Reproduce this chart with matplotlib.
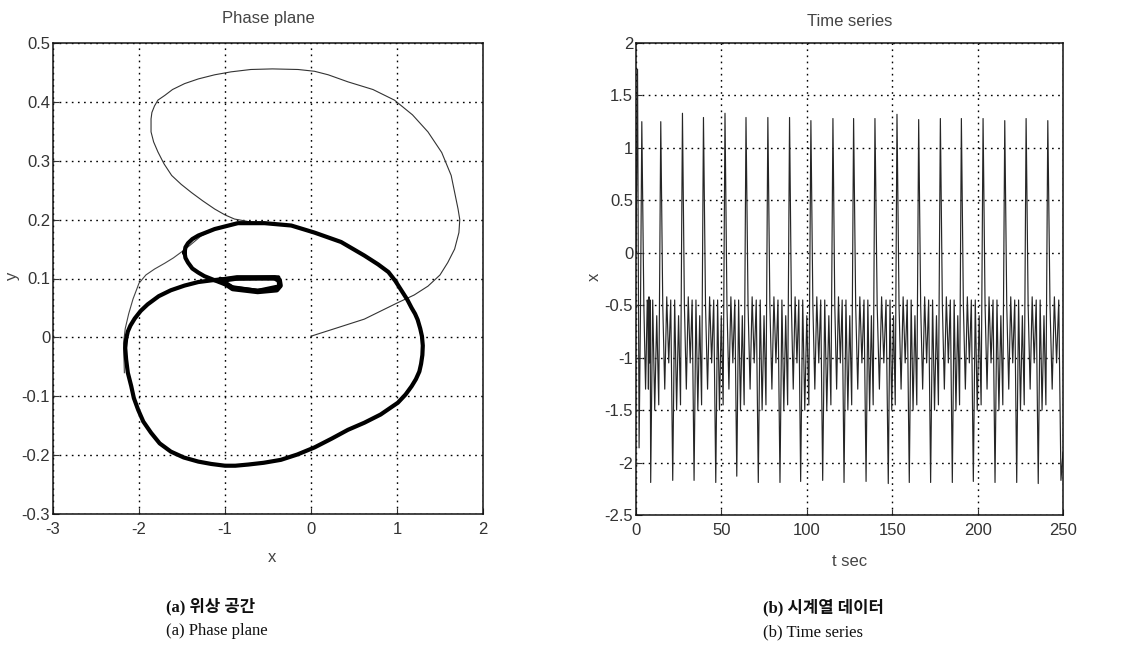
import numpy as np
import matplotlib
matplotlib.use("Agg")
import matplotlib.pyplot as plt

plt.rcParams['axes.unicode_minus'] = False

# ---------------- data: phase plane ----------------
# main attractor loop (clockwise, starting at the "tongue" tip)
loop_x = [-1.47, -1.46, -1.43, -1.38, -1.31, -1.12, -0.85, -0.54, -0.23, 0.04, 0.35,
          0.62, 0.78, 0.90, 0.98, 1.05, 1.12, 1.17, 1.21, 1.24, 1.27, 1.29, 1.30,
          1.295, 1.28, 1.26, 1.22, 1.17, 1.10, 1.01, 0.81, 0.62, 0.43, 0.24, 0.04,
          -0.16, -0.35, -0.55, -0.73, -0.88, -1.00, -1.16, -1.31, -1.48, -1.63,
          -1.76, -1.86, -1.95, -2.01, -2.06, -2.09, -2.13, -2.15, -2.16, -2.15,
          -2.13, -2.10, -2.05, -1.98, -1.90, -1.77, -1.63, -1.47, -1.31, -1.15,
          -1.00, -0.86, -0.60, -0.38, -0.36, -0.62, -0.91, -1.12, -1.24, -1.31,
          -1.38, -1.43, -1.46, -1.47]
loop_y = [0.144, 0.153, 0.160, 0.167, 0.173, 0.184, 0.194, 0.194, 0.190, 0.178, 0.162,
          0.139, 0.124, 0.111, 0.096, 0.080, 0.064, 0.050, 0.040, 0.030, 0.015, 0.002,
          -0.014, -0.030, -0.045, -0.058, -0.071, -0.083, -0.097, -0.111, -0.131,
          -0.145, -0.157, -0.172, -0.187, -0.199, -0.208, -0.213, -0.216, -0.218,
          -0.218, -0.215, -0.211, -0.204, -0.194, -0.180, -0.162, -0.143, -0.123,
          -0.103, -0.083, -0.060, -0.037, -0.018, -0.003, 0.010, 0.020, 0.032,
          0.045, 0.056, 0.070, 0.080, 0.088, 0.094, 0.097, 0.099, 0.100, 0.101,
          0.102, 0.087, 0.079, 0.085, 0.097, 0.104, 0.110, 0.117, 0.127, 0.135,
          0.144]
# small inner loop (dense region)
inner_x = [-1.05, -0.86, -0.60, -0.42, -0.37, -0.36, -0.40, -0.62, -0.91, -1.05]
inner_y = [0.097, 0.101, 0.101, 0.101, 0.097, 0.088, 0.081, 0.078, 0.083, 0.097]
# transient: big outer excursion
trans_x = [0.00, 0.30, 0.62, 1.01, 1.20, 1.36, 1.50, 1.59, 1.67, 1.72, 1.73, 1.71,
           1.63, 1.52, 1.36, 1.18, 0.97, 0.72, 0.43, 0.20, 0.04, -0.15, -0.45,
           -0.70, -0.93, -1.12, -1.31, -1.47, -1.61, -1.70, -1.78, -1.82, -1.85,
           -1.86, -1.86, -1.83, -1.78, -1.71, -1.62, -1.51, -1.39, -1.26, -1.12,
           -1.00, -0.89, -0.70]
trans_y = [0.002, 0.016, 0.031, 0.059, 0.072, 0.087, 0.106, 0.127, 0.150, 0.178,
           0.200, 0.218, 0.275, 0.314, 0.349, 0.378, 0.403, 0.421, 0.434, 0.446,
           0.452, 0.455, 0.456, 0.455, 0.451, 0.446, 0.439, 0.431, 0.421, 0.411,
           0.403, 0.393, 0.382, 0.371, 0.349, 0.332, 0.315, 0.295, 0.275, 0.260,
           0.246, 0.232, 0.218, 0.208, 0.201, 0.196]
# transient: first outer pass on the left
outer_x = [-2.17, -2.18, -2.16, -2.12, -2.07, -2.00, -1.92, -1.82, -1.70, -1.60,
           -1.46, -1.37, -1.28, -1.10]
outer_y = [-0.06, -0.01, 0.015, 0.040, 0.065, 0.092, 0.106, 0.116, 0.126, 0.135,
           0.150, 0.161, 0.172, 0.185]

# ---------------- data: time series ----------------
start_t = [0.0, 0.9, 1.8, 2.6, 3.4, 4.6, 5.6, 6.6]
start_x = [0.0, 1.75, -1.86, -0.60, 1.25, -0.50, -1.30, -0.45]
peak_t = [14.5, 27.2, 39.5, 52.1, 64.4, 77.2, 89.9, 102.4, 115.3, 127.4, 139.9,
          152.8, 165.5, 178.2, 190.5, 203.2, 215.9, 228.4, 241.1]
peak_x = [1.25, 1.33, 1.29, 1.33, 1.29, 1.29, 1.29, 1.26, 1.28, 1.28, 1.28, 1.32,
          1.27, 1.28, 1.28, 1.28, 1.26, 1.28, 1.26]
trough_t = [8.6, 21.5, 34.0, 46.7, 59.0, 71.6, 84.3, 96.4, 109.3, 121.8, 134.7,
            147.7, 160.0, 172.5, 185.2, 197.5, 210.2, 222.9, 235.5, 248.8]
trough_x = [-2.19, -2.17, -2.17, -2.19, -2.13, -2.19, -2.19, -2.18, -2.17, -2.19,
            -2.18, -2.20, -2.19, -2.19, -2.19, -2.18, -2.19, -2.19, -2.20, -2.17]
# levels of the small strokes between a peak and the next trough, and after a trough
after_peak_x = [-0.50, -1.30, -0.42, -1.05, -0.45]
after_trough_x = [-0.45, -1.50, -0.60, -1.45]

# build the time-series line from the read events
ts_t = list(start_t)
ts_x = list(start_x)
events = sorted([(t, v, 'T') for t, v in zip(trough_t, trough_x)] +
                [(t, v, 'P') for t, v in zip(peak_t, peak_x)])
prev_t = start_t[-1]
prev_kind = 'P'
for t, v, kind in events:
    seg = after_peak_x if prev_kind == 'P' else after_trough_x
    n = len(seg)
    gap = t - prev_t
    for i, sv in enumerate(seg):
        ts_t.append(prev_t + gap * (i + 1) / (n + 1.0))
        ts_x.append(sv)
    ts_t.append(t)
    ts_x.append(v)
    prev_t, prev_kind = t, kind
ts_t.append(250.0)
ts_x.append(-1.9)

left_xticks = [-3, -2, -1, 0, 1, 2]
left_yticks = [-0.3, -0.2, -0.1, 0, 0.1, 0.2, 0.3, 0.4, 0.5]
left_yticklabels = ['-0.3', '-0.2', '-0.1', '0', '0.1', '0.2', '0.3', '0.4', '0.5']
right_xticks = [0, 50, 100, 150, 200, 250]
right_yticks = [-2.5, -2, -1.5, -1, -0.5, 0, 0.5, 1, 1.5, 2]
right_yticklabels = ['-2.5', '-2', '-1.5', '-1', '-0.5', '0', '0.5', '1', '1.5', '2']

# ---------------- drawing ----------------
W, H = 1122, 646
fig = plt.figure(figsize=(W / 100, H / 100), dpi=100)
tick_font = ['Liberation Sans Narrow', 'Liberation Sans', 'DejaVu Sans']

def style(ax):
    ax.grid(True, color='black', linestyle=(0, (1.2, 3.2)), linewidth=1.0)
    for s in ax.spines.values():
        s.set_linewidth(1.1)
        s.set_color('#111111')
    ax.tick_params(direction='in', length=4, width=0.8, labelsize=12,
                   colors='#333333', pad=2)
    ax.tick_params(axis='x', pad=6)
    for lab in ax.get_xticklabels() + ax.get_yticklabels():
        lab.set_family(tick_font)
        lab.set_color('#333333')

ax1 = fig.add_axes([53 / W, 1 - 514 / H, 430 / W, 471 / H])
ax1.plot(trans_x, trans_y, color='#333333', lw=0.8)
ax1.plot(outer_x, outer_y, color='#444444', lw=0.8)
ax1.plot(loop_x, loop_y, color='black', lw=3.0, solid_joinstyle='round')
ax1.plot(inner_x, inner_y, color='black', lw=4.0, solid_joinstyle='round')
ax1.set_xlim(-3, 2)
ax1.set_ylim(-0.3, 0.5)
ax1.set_xticks(left_xticks)
ax1.set_yticks(left_yticks)
ax1.set_yticklabels(left_yticklabels)
style(ax1)

ax2 = fig.add_axes([636 / W, 1 - 515 / H, 427 / W, 472 / H])
ax2.plot(ts_t, ts_x, color='#262626', lw=0.85)
ax2.set_xlim(0, 250)
ax2.set_ylim(-2.5, 2)
ax2.set_xticks(right_xticks)
ax2.set_yticks(right_yticks)
ax2.set_yticklabels(right_yticklabels)
style(ax2)

def ftext(px, py, s, **kw):
    fig.text(px / W, 1 - py / H, s, **kw)

lab_kw = dict(family=tick_font, color='#444444', fontsize=12, ha='center', va='center')
ftext(268, 18, 'Phase plane', **lab_kw)
ftext(850, 22, 'Time series', **lab_kw)
ftext(272, 557, 'x', **lab_kw)
ftext(12, 276, 'y', rotation=90, **lab_kw)
ftext(594, 277, 'x', rotation=90, **lab_kw)
ftext(850, 561, 't sec', **lab_kw)

cap_font = ['Liberation Serif', 'Noto Sans CJK KR']
cap_kw = dict(family=cap_font, color='#111111', fontsize=12, ha='left', va='center')
ftext(166, 607, '(a) 위상 공간', fontweight='bold', **cap_kw)
ftext(166, 631, '(a) Phase plane', **cap_kw)
ftext(763, 608, '(b) 시계열 데이터', fontweight='bold', **cap_kw)
ftext(763, 632, '(b) Time series', **cap_kw)

fig.savefig('out.png', dpi=100, facecolor='white')
